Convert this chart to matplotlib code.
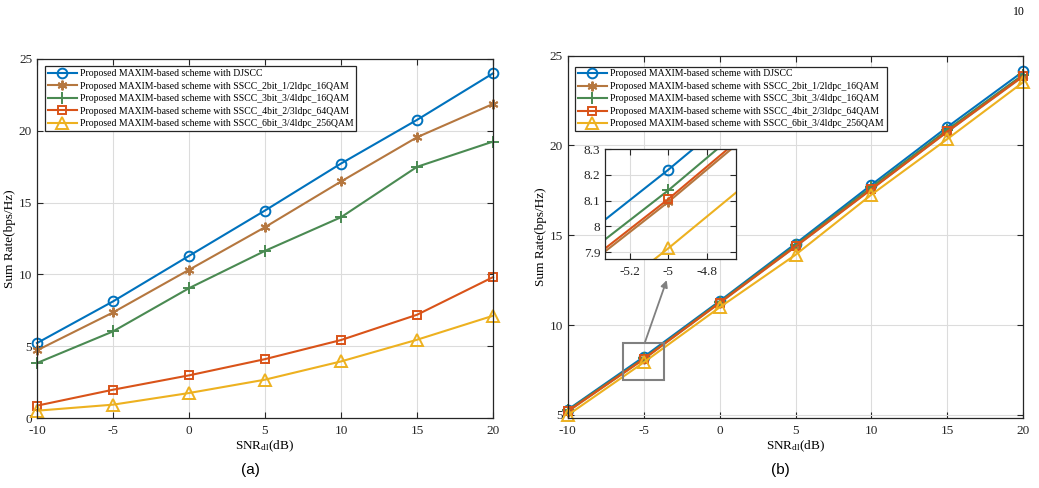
import matplotlib
matplotlib.use("Agg")
import matplotlib.pyplot as plt
from matplotlib.patches import Rectangle

plt.rcParams["font.family"] = ["Liberation Serif", "DejaVu Serif"]
plt.rcParams["mathtext.fontset"] = "custom"
plt.rcParams["mathtext.rm"] = "Liberation Serif"
plt.rcParams["mathtext.it"] = "Liberation Serif:italic"
plt.rcParams["axes.unicode_minus"] = False

snr = [-10, -5, 0, 5, 10, 15, 20]

labels = [
    "Proposed MAXIM-based scheme with DJSCC",
    "Proposed MAXIM-based scheme with SSCC_2bit_1/2ldpc_16QAM",
    "Proposed MAXIM-based scheme with SSCC_3bit_3/4ldpc_16QAM",
    "Proposed MAXIM-based scheme with SSCC_4bit_2/3ldpc_64QAM",
    "Proposed MAXIM-based scheme with SSCC_6bit_3/4ldpc_256QAM",
]

# (a)
a_djscc = [5.22, 8.12, 11.29, 14.45, 17.72, 20.76, 24.0]
a_sscc_2bit = [4.71, 7.35, 10.32, 13.29, 16.47, 19.55, 21.87]
a_sscc_3bit = [3.83, 6.03, 9.04, 11.64, 13.98, 17.49, 19.25]
a_sscc_4bit = [0.86, 1.97, 2.97, 4.10, 5.43, 7.19, 9.81]
a_sscc_6bit = [0.51, 0.93, 1.74, 2.67, 3.94, 5.45, 7.12]

# (b)
b_djscc = [5.28, 8.22, 11.33, 14.53, 17.81, 21.03, 24.13]
b_sscc_2bit = [5.18, 8.095, 11.22, 14.36, 17.56, 20.76, 23.85]
b_sscc_3bit = [5.25, 8.14, 11.28, 14.45, 17.68, 20.88, 23.95]
b_sscc_4bit = [5.20, 8.106, 11.24, 14.38, 17.57, 20.78, 23.88]
b_sscc_6bit = [4.98, 7.915, 10.98, 13.91, 17.26, 20.36, 23.53]

colors = ["#0072BD", "#B5773F", "#4A8A52", "#D95319", "#EDB120"]
markers = ["o", (6, 2, 0), "+", "s", "^"]
msizes = [7, 7, 8, 6, 8]


def style_axes(ax, fs=9.5):
    ax.grid(True, color="#DCDCDC", lw=0.8)
    ax.set_axisbelow(True)
    ax.tick_params(direction="in", top=True, right=True, labelsize=fs,
                   length=4, width=0.8, colors="#262626")
    ax.tick_params(axis="x", pad=5)
    for s in ax.spines.values():
        s.set_color("#262626")
        s.set_linewidth(0.9)


def draw(ax, series):
    for y, c, m, ms, lab in zip(series, colors, markers, msizes, labels):
        ax.plot(snr, y, color=c, marker=m, ms=ms, mfc="none", mec=c,
                mew=1.4, lw=1.5, label=lab, clip_on=False)


def add_legend(ax, anchor):
    leg = ax.legend(loc="upper left", bbox_to_anchor=anchor, borderaxespad=0,
                    fontsize=7.0, handlelength=3.0, fancybox=False, framealpha=1,
                    edgecolor="#262626", labelspacing=0.36, borderpad=0.3,
                    handletextpad=0.3)
    leg.get_frame().set_linewidth(0.9)


fig = plt.figure(figsize=(10.39, 4.88), dpi=100)

ax1 = fig.add_axes([0.0356, 0.1434, 0.4389, 0.7357])
draw(ax1, [a_djscc, a_sscc_2bit, a_sscc_3bit, a_sscc_4bit, a_sscc_6bit])
ax1.set_xlim(-10, 20)
ax1.set_ylim(0, 25)
ax1.set_xticks(snr)
ax1.set_yticks([0, 5, 10, 15, 20, 25])
style_axes(ax1)
ax1.set_xlabel("SNR$_{\\mathrm{dl}}$(dB)", fontsize=9.5, labelpad=1)
ax1.set_ylabel("Sum Rate(bps/Hz)", fontsize=9.5, labelpad=2)
add_legend(ax1, (0.017, 0.98))

ax2 = fig.add_axes([0.5464, 0.1434, 0.4385, 0.7425])
draw(ax2, [b_djscc, b_sscc_2bit, b_sscc_3bit, b_sscc_4bit, b_sscc_6bit])
ax2.set_xlim(-10, 20)
ax2.set_ylim(4.82, 25)
ax2.set_xticks(snr)
ax2.set_yticks([5, 10, 15, 20, 25])
style_axes(ax2)
ax2.set_xlabel("SNR$_{\\mathrm{dl}}$(dB)", fontsize=9.5, labelpad=1)
ax2.set_ylabel("Sum Rate(bps/Hz)", fontsize=9.5, labelpad=2)
add_legend(ax2, (0.016, 0.97))

# zoom box and arrow
ax2.add_patch(Rectangle((-6.33, 6.95), 2.69, 2.04, fill=False, ec="#808080", lw=1.5, zorder=5))
ax2.annotate("", xy=(-3.48, 12.5), xytext=(-4.91, 9.05),
             arrowprops=dict(arrowstyle="-|>", color="#808080", lw=1.3,
                             mutation_scale=10, shrinkA=0, shrinkB=0))

# inset
axin = fig.add_axes([0.5823, 0.469, 0.1261, 0.2254])
for y, c, m, ms in zip([b_djscc, b_sscc_2bit, b_sscc_3bit, b_sscc_4bit, b_sscc_6bit],
                       colors, markers, msizes):
    axin.plot(snr, y, color=c, marker=m, ms=ms, mfc="none", mec=c, mew=1.4, lw=1.5)
axin.set_xlim(-5.33, -4.647)
axin.set_ylim(7.873, 8.3)
axin.set_xticks([-5.2, -5, -4.8])
axin.set_xticklabels(["-5.2", "-5", "-4.8"])
axin.set_yticks([7.9, 8.0, 8.1, 8.2, 8.3])
axin.set_yticklabels(["7.9", "8", "8.1", "8.2", "8.3"])
style_axes(axin, fs=9.5)

fig.text(0.2406, 0.037, "(a)", family="Liberation Sans", fontsize=11, ha="center", va="center")
fig.text(0.7507, 0.037, "(b)", family="Liberation Sans", fontsize=11, ha="center", va="center")
fig.text(0.9865, 0.975, "10", fontsize=8.5, ha="right", va="center")

fig.savefig("out.png", dpi=100)
